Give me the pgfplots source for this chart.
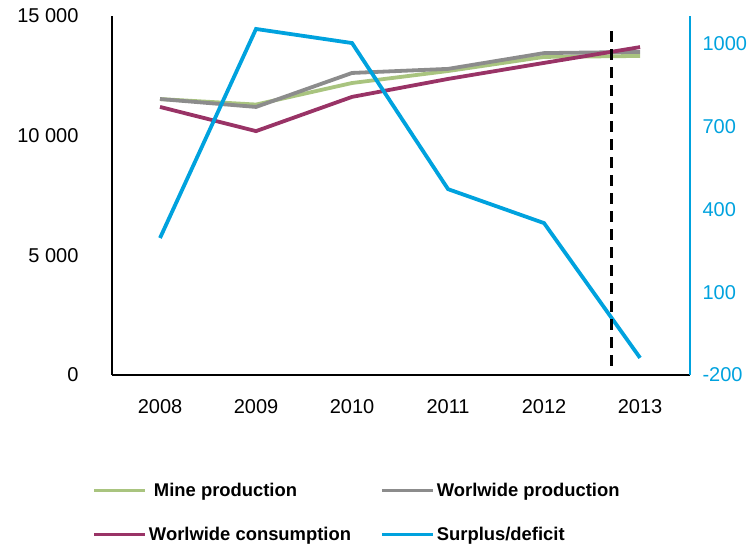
\documentclass[border=0pt]{standalone}
\usepackage{pgfplots}
\pgfplotsset{compat=1.18}
\usepackage{fontspec}
\setmainfont{Liberation Sans}

\definecolor{minegreen}{RGB}{169,196,127}
\definecolor{prodgray}{RGB}{140,140,140}
\definecolor{consred}{RGB}{153,51,102}
\definecolor{surplusblue}{RGB}{0,162,222}

\pgfplotsset{
  commonaxis/.style={
    at={(112pt,170pt)}, anchor=south west,
    scale only axis, width=578pt, height=359pt,
    xmin=-0.5, xmax=5.52,
    major tick length=0pt,
    scaled ticks=false,
    /pgf/number format/assume math mode=true,
    /pgf/number format/1000 sep={},
    ticklabel style={font=\fontsize{20}{24}\selectfont},
    axis line style={-, line width=1.6pt},
    clip=false,
  },
}

\begin{document}
\begin{tikzpicture}
\useasboundingbox (0,0) rectangle (755pt,545pt);

% Left axis: production and consumption
\begin{axis}[commonaxis,
  axis y line*=left, axis x line*=bottom,
  ymin=0, ymax=15000,
  xtick={0,1,2,3,4,5},
  xticklabels={2008,2009,2010,2011,2012,2013},
  xticklabel style={yshift=-21pt},
  ytick={0,5000,10000,15000},
  yticklabels={0,5 000,10 000,15 000},
  yticklabel style={xshift=-30pt},
]
\addplot[minegreen, line width=3.8pt] coordinates {
  (0,11530) (1,11300) (2,12200) (3,12700) (4,13290) (5,13330)};
\addplot[prodgray, line width=3.8pt] coordinates {
  (0,11530) (1,11200) (2,12620) (3,12790) (4,13450) (5,13500)};
\addplot[consred, line width=3.8pt] coordinates {
  (0,11200) (1,10190) (2,11620) (3,12370) (4,13040) (5,13700)};
\end{axis}

% Right axis: surplus / deficit
\begin{axis}[commonaxis,
  axis y line*=right, axis x line=none,
  ymin=-200, ymax=1100,
  ytick={-200,100,400,700,1000},
  y axis line style={surplusblue},
  yticklabel style={surplusblue, xshift=9pt},
  legend columns=2,
  legend cell align=left,
  legend style={
    at={(axis description cs:-0.0346,-0.383)}, anchor=west,
    draw=none, fill=none, inner sep=0pt,
    font=\bfseries\fontsize{18.4}{21}\selectfont,
    /tikz/every even column/.append style={column sep=27pt},
    row sep=25pt,
  },
  legend image code/.code={\draw (0pt,0pt) -- (51pt,0pt);},
]
\addlegendimage{minegreen, line width=3.8pt}
\addlegendentry{\hspace{5pt}Mine production}
\addlegendimage{prodgray, line width=3.8pt}
\addlegendentry{Worlwide production}
\addlegendimage{consred, line width=3.8pt}
\addlegendentry{Worlwide consumption}
\addplot[surplusblue, line width=3.8pt] coordinates {
  (0,296) (1,1053) (2,1002) (3,473) (4,350) (5,-138)};
\addlegendentry{Surplus/deficit}
% forecast divider
\addplot[black, line width=2.6pt, dash pattern=on 11pt off 7pt, forget plot]
  coordinates {(4.7,-167) (4.7,1056)};
\end{axis}
\end{tikzpicture}
\end{document}
